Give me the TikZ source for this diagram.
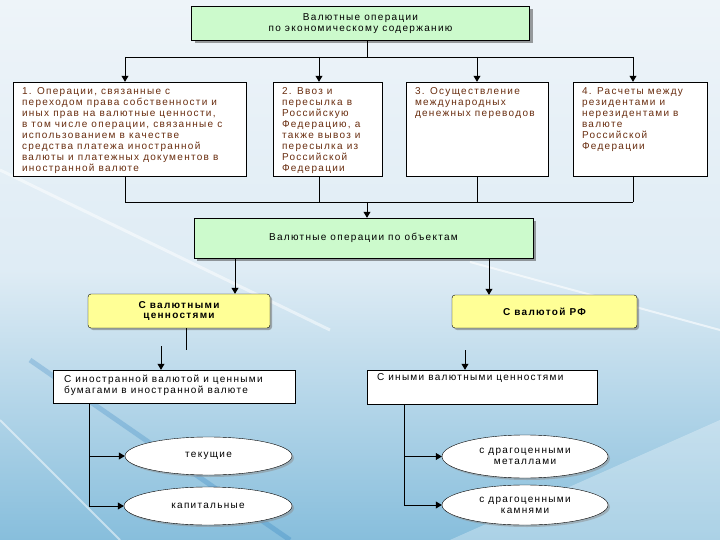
\documentclass[tikz,border=0pt]{standalone}
\usepackage{fontspec}
\setmainfont{Liberation Sans}[LetterSpace=13]
\usetikzlibrary{arrows.meta,positioning,shapes.geometric,shadows}
\definecolor{bgtop}{RGB}{238,244,249}
\definecolor{bgbot}{RGB}{135,190,220}
\definecolor{boxgreen}{RGB}{204,250,204}
\definecolor{boxyellow}{RGB}{255,255,150}
\definecolor{txtbrown}{RGB}{105,45,15}
\newcommand{\toptext}[3]{\parbox[c][#2][t]{#1}{\raggedright #3}}

\begin{document}
\begin{tikzpicture}[x=1pt, y=-1pt,
    font=\fontsize{10}{10.9}\selectfont,
    greenbox/.style={rectangle, draw=black, fill=boxgreen, align=center, drop shadow={shadow xshift=3pt, shadow yshift=-3pt, fill=black!75}},
    topbox/.style={rectangle, draw=black, fill=white, inner xsep=9pt, inner ysep=6pt, text=txtbrown},
    yellowbox/.style={rectangle, rounded corners=3pt, draw=black, fill=boxyellow, align=center, font=\fontsize{10}{10.9}\selectfont\bfseries, drop shadow={shadow xshift=2pt, shadow yshift=-2pt, fill=black!60}},
    whitebox/.style={rectangle, draw=black, fill=white, inner xsep=11pt, inner ysep=4pt},
    oval/.style={ellipse, draw=black, fill=white, inner sep=0pt, align=center, drop shadow={shadow xshift=2pt, shadow yshift=-2pt, fill=black!45}},
    link/.style={draw=black, line width=0.8pt},
    arr/.style={link, -{Triangle[length=6pt, width=7pt]}}
]
% background
\useasboundingbox (0,0) rectangle (720,540);
\fill[top color=bgtop, bottom color=bgbot, middle color=bgtop!85!bgbot] (0,0) rectangle (720,540);
\draw[white, line width=3pt, opacity=0.5] (0,170) -- (330,330);
\draw[white, line width=2pt, opacity=0.6] (470,262) -- (720,330);
\draw[blue!45!cyan!70!black, line width=5pt, opacity=0.2] (30,360) -- (290,540);
\draw[white, line width=2pt, opacity=0.5] (0,420) -- (120,540);
\fill[white, opacity=0.3] (450,540) -- (720,420) -- (720,540) -- cycle;

% first level
\node[greenbox, minimum width=338pt, minimum height=34pt] (top) at (360.5,23.5) {Валютные операции\\по экономическому содержанию};

\node[topbox] (b1) at (129.5,129) {\toptext{215pt}{82pt}{1. Операции, связанные с\\переходом права собственности и\\иных прав на валютные ценности,\\в том числе операции, связанные с\\использованием в качестве\\средства платежа иностранной\\валюты и платежных документов в\\иностранной валюте}};
\node[topbox] (b2) at (327.5,129) {\toptext{91pt}{82pt}{2. Ввоз и\\пересылка в\\Российскую\\Федерацию, а\\также вывоз и\\пересылка из\\Российской\\Федерации}};
\node[topbox] (b3) at (477,129) {\toptext{124pt}{82pt}{3. Осуществление\\международных\\денежных переводов}};
\node[topbox] (b4) at (640,129) {\toptext{116pt}{82pt}{4. Расчеты между\\резидентами и\\нерезидентами в\\валюте\\Российской\\Федерации}};

% second level
\node[greenbox, minimum width=339pt, minimum height=40pt] (mid) at (363.5,238) {Валютные операции по объектам};
\node[yellowbox, minimum width=182pt, minimum height=34pt] (yl) at (179,311) {С валютными\\ценностями};
\node[yellowbox, minimum width=185pt, minimum height=33pt] (yr) at (544.5,311.5) {С валютой РФ};
\node[whitebox, inner ysep=5pt] (wl) at (174,386.5) {\toptext{220pt}{23pt}{С иностранной валютой и ценными\\бумагами в иностранной валюте}};
\node[whitebox, inner xsep=10pt] (wr) at (482,387) {\toptext{210pt}{26pt}{С иными валютными ценностями}};

% ovals
\node[oval, minimum width=167pt, minimum height=38pt] (e1) at (208.5,456) {текущие};
\node[oval, minimum width=168pt, minimum height=38pt] (e2) at (208,506) {капитальные};
\node[oval, minimum width=166pt, minimum height=43pt] (e3) at (525,456.5) {с драгоценными\\металлами};
\node[oval, minimum width=166pt, minimum height=40pt] (e4) at (525,505) {с драгоценными\\камнями};

% connectors, upper part
\coordinate (busT) at (367,57);
\coordinate (t1) at (125,57);
\coordinate (t2) at (319,57);
\coordinate (t3) at (477,57);
\coordinate (t4) at (633,57);
\draw[link] (top.south -| busT) -- (busT);
\draw[link] (t1) -- (t4);
\foreach \i in {1,...,4}
    \draw[arr] (t\i) -- (t\i |- b\i.north);

\coordinate (busM) at (367,202);
\coordinate (s1) at (125,202);
\coordinate (s2) at (319,202);
\coordinate (s3) at (477,202);
\coordinate (s4) at (633,202);
\foreach \i in {1,...,4}
    \draw[link] (b\i.south -| s\i) -- (s\i);
\draw[link] (s1) -- (s4);
\draw[arr] (busM) -- (busM |- mid.north);

% connectors, lower part
\coordinate (m1) at (235,260);
\coordinate (m2) at (489,260);
\draw[arr] (mid.south -| m1) -- (yl.north -| m1);
\draw[arr] (mid.south -| m2) -- (yr.north -| m2);

\coordinate (c1) at (186,350);
\coordinate (c2) at (161,346);
\coordinate (c3) at (465,350);
\draw[link] (yl.south -| c1) -- (c1);
\draw[arr] (c2) -- (c2 |- wl.north);
\draw[arr] (c3) -- (c3 |- wr.north);

\coordinate (k1) at (89,410);
\coordinate (k2) at (404,410);
\draw[arr] (wl.south -| k1) |- (e2.west);
\draw[arr] (k1 |- e1.west) -- (e1.west);
\draw[arr] (wr.south -| k2) |- (e4.west);
\draw[arr] (k2 |- e3.west) -- (e3.west);
\end{tikzpicture}
\end{document}
